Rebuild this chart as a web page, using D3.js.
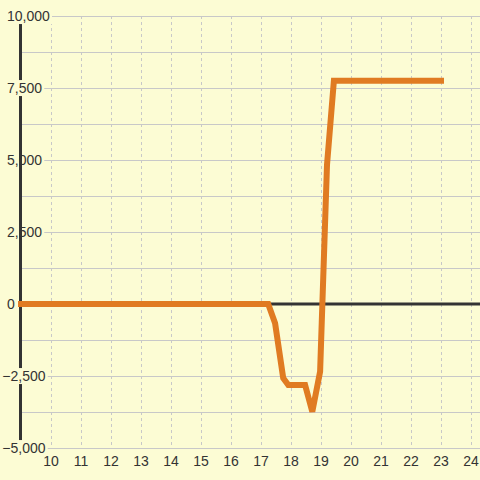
<!DOCTYPE html>
<html>
<head>
<meta charset="utf-8">
<script src="https://cdn.jsdelivr.net/npm/d3@7"></script>
<style>
  body { margin: 0; background: #fcfcd4; }
  svg { display: block; }
</style>
</head>
<body>
<script>
// hours of day and running value
var hours = [9, 17.24, 17.47, 17.74, 17.91, 18.47, 18.71, 18.97, 19.2, 19.43, 23];
var values = [0, 0, -670, -2570, -2810, -2810, -3740, -2350, 4830, 7750, 7750];

var xTicks = [10, 11, 12, 13, 14, 15, 16, 17, 18, 19, 20, 21, 22, 23, 24];
var yLabelTicks = [-5000, -2500, 0, 2500, 5000, 7500, 10000];
var yGridTicks = d3.range(-5000, 10001, 1250);
// labels whose background also hides the axis line
var yLabelsOverAxis = [10000, 7500, -2500, -5000];

var width = 480,
  height = 480,
  bg = '#fcfcd4',
  font = '"Liberation Sans", Arial, sans-serif';

var x = d3.scaleLinear().domain([10, 24]).range([51, 471]);
var y = d3.scaleLinear().domain([-5000, 10000]).range([448, 16]);

var svg = d3.select('body').append('svg')
  .attr('width', width)
  .attr('height', height);

svg.append('rect')
  .attr('width', width)
  .attr('height', height)
  .attr('fill', bg);

// horizontal grid
svg.append('g').selectAll('line')
  .data(yGridTicks)
  .enter()
  .append('line')
  .attr('x1', 20)
  .attr('x2', width)
  .attr('y1', function(d) { return Math.round(y(d)) + 0.5; })
  .attr('y2', function(d) { return Math.round(y(d)) + 0.5; })
  .style('stroke', '#c8c8c8')
  .style('stroke-width', 1);

// vertical dashed grid
svg.append('g').selectAll('line')
  .data(xTicks)
  .enter()
  .append('line')
  .attr('x1', function(d) { return Math.round(x(d)) + 0.5; })
  .attr('x2', function(d) { return Math.round(x(d)) + 0.5; })
  .attr('y1', y(10000))
  .attr('y2', y(-5000))
  .style('stroke', '#c8c8c8')
  .style('stroke-width', 1)
  .style('stroke-dasharray', '3,3');

// zero line
svg.append('line')
  .attr('x1', 20)
  .attr('x2', width)
  .attr('y1', y(0))
  .attr('y2', y(0))
  .style('stroke', '#333')
  .style('stroke-width', 3);

var fmt = d3.format(',');
var gUnder = svg.append('g');

// y axis line
svg.append('line')
  .attr('x1', 20.5)
  .attr('x2', 20.5)
  .attr('y1', y(10000))
  .attr('y2', y(-5000))
  .style('stroke', '#333')
  .style('stroke-width', 3);

var gOver = svg.append('g');

// measure minus sign so negatives hang to the left
var probe = svg.append('text')
  .style('font-family', font)
  .style('font-size', '14px')
  .text('-');
var minusW = probe.node().getComputedTextLength();
probe.remove();

yLabelTicks.forEach(function(d) {
  var over = yLabelsOverAxis.indexOf(d) >= 0;
  var g = (over ? gOver : gUnder).append('g')
    .attr('transform', 'translate(' + (7 - (d < 0 ? minusW : 0)) + ',' + y(d) + ')');
  var t = g.append('text')
    .attr('dy', '0.36em')
    .style('font-family', font)
    .style('font-size', '14px')
    .style('fill', '#333')
    .text(fmt(d));
  var b = t.node().getBBox();
  g.insert('rect', 'text')
    .attr('x', b.x - 2)
    .attr('y', b.y)
    .attr('width', b.width + 4)
    .attr('height', b.height)
    .attr('fill', bg);
  if (!over) {
    // text itself stays above the axis line
    gOver.append('text')
      .attr('transform', g.attr('transform'))
      .attr('dy', '0.36em')
      .style('font-family', font)
      .style('font-size', '14px')
      .style('fill', '#333')
      .text(fmt(d));
    t.remove();
  }
});

// x labels
svg.append('g').selectAll('text')
  .data(xTicks)
  .enter()
  .append('text')
  .attr('x', function(d) { return x(d); })
  .attr('y', 466)
  .attr('text-anchor', 'middle')
  .style('font-family', font)
  .style('font-size', '14px')
  .style('fill', '#333')
  .text(function(d) { return d; });

// series
var line = d3.line()
  .x(function(d, i) { return x(hours[i]); })
  .y(function(d) { return y(d); });

svg.append('path')
  .attr('d', line(values))
  .attr('fill', 'none')
  .style('stroke', '#e07b22')
  .style('stroke-width', 6)
  .style('stroke-linecap', 'square')
  .style('stroke-linejoin', 'miter');
</script>
</body>
</html>
